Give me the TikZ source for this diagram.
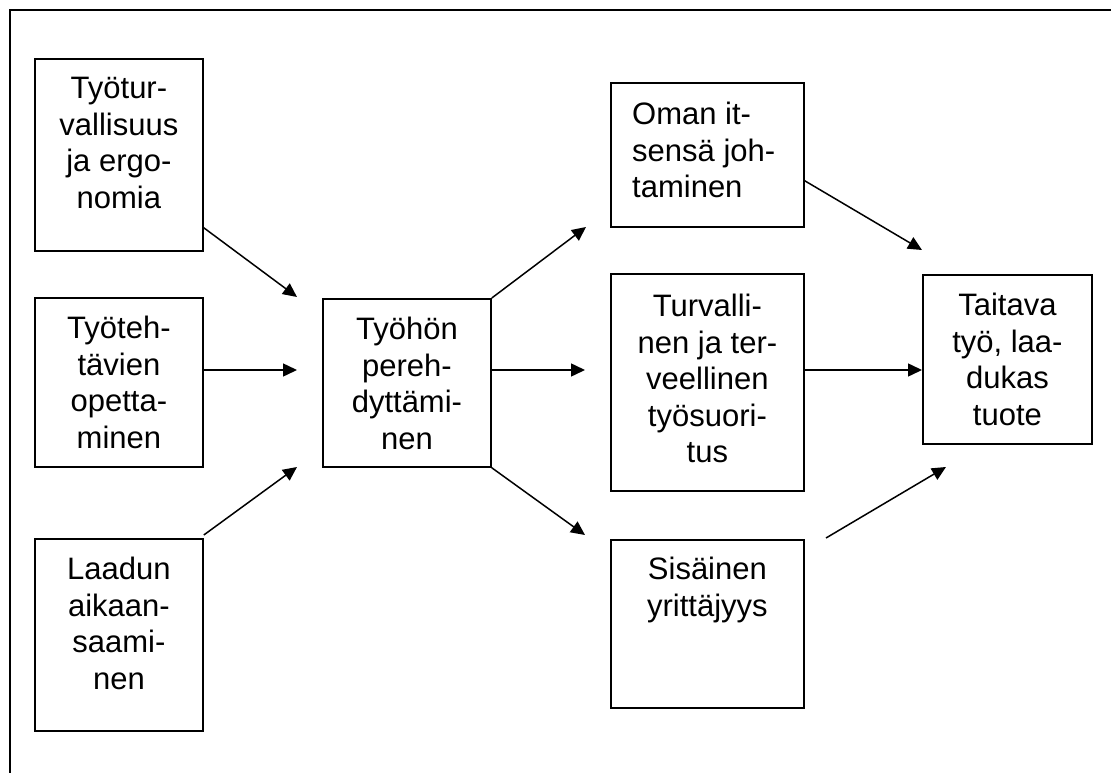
\documentclass[tikz,border=0pt]{standalone}
\usepackage{fontspec}
\setmainfont{Liberation Sans}
\usetikzlibrary{arrows.meta}
\begin{document}
\begin{tikzpicture}[x=1pt,y=-1pt,
  box/.style={draw, line width=1.8pt, inner sep=0pt, anchor=north west},
  lbl/.style={inner sep=0pt, align=center, font=\fontsize{31}{36.5}\selectfont},
  conn/.style={line width=1.5pt, -{Triangle[length=14pt,width=13pt]}},
  plain/.style={line width=1.5pt}]
\useasboundingbox (0,0) rectangle (1111,773);
% outer frame, running off the right and bottom edges
\draw[line width=1.8pt] (1130,10) -- (10,10) -- (10,790);

% left column
\node[box, minimum width=168pt, minimum height=192pt] (a) at (34,58) {};
\node[box, minimum width=168pt, minimum height=169pt] (b) at (34,297) {};
\node[box, minimum width=168pt, minimum height=192pt] (c) at (34,538) {};
% centre
\node[box, minimum width=168pt, minimum height=168pt] (d) at (322,298) {};
% right column
\node[box, minimum width=193pt, minimum height=144pt] (e) at (610,82) {};
\node[box, minimum width=193pt, minimum height=217pt] (f) at (610,273) {};
\node[box, minimum width=193pt, minimum height=168pt] (g) at (610,539) {};
% result
\node[box, minimum width=169pt, minimum height=169pt] (h) at (922,274) {};

% labels
\node[lbl, anchor=north] at ([yshift=-19pt]a.north) {Työtur-\\vallisuus\\ja ergo-\\nomia};
\node[lbl, anchor=north] at ([yshift=-19pt]b.north) {Työteh-\\tävien\\opetta-\\minen};
\node[lbl, anchor=north] at ([yshift=-19pt]c.north) {Laadun\\aikaan-\\saami-\\nen};
\node[lbl, anchor=north] at ([yshift=-19pt]d.north) {Työhön\\pereh-\\dyttämi-\\nen};
\node[lbl, anchor=north west, align=left] at ([xshift=22pt,yshift=-20pt]e.north west) {Oman it-\\sensä joh-\\taminen};
\node[lbl, anchor=north] at ([yshift=-21pt]f.north) {Turvalli-\\nen ja ter-\\veellinen\\työsuori-\\tus};
\node[lbl, anchor=north] at ([yshift=-18pt]g.north) {Sisäinen\\yrittäjyys};
\node[lbl, anchor=north] at ([yshift=-19pt]h.north) {Taitava\\työ, laa-\\dukas\\tuote};

% arrow end points
\coordinate (dA) at (297,297);
\coordinate (dB) at (297,370);
\coordinate (dC) at (297,467);
\coordinate (tE) at (586,227);
\coordinate (tF) at (585,370);
\coordinate (tG) at (585,535);
\coordinate (hE) at (922,250);
\coordinate (hF) at (922,370);
\coordinate (hG) at (946,467);
\coordinate (gS) at (826,538);

% connectors
\draw[conn] ([yshift=24pt]a.south east) -- (dA);
\draw[conn] (b.east |- dB) -- (dB);
\draw[conn] ([yshift=3pt]c.north east) -- (dC);
\draw[conn] (d.north east) -- (tE);
\draw[conn] (d.east |- tF) -- (tF);
\draw[conn] (d.south east) -- (tG);
\draw[conn] ([yshift=47pt]e.south east) -- (hE);
\draw[conn] (f.east |- hF) -- (hF);
\draw[conn] (gS) -- (hG);
\end{tikzpicture}
\end{document}
